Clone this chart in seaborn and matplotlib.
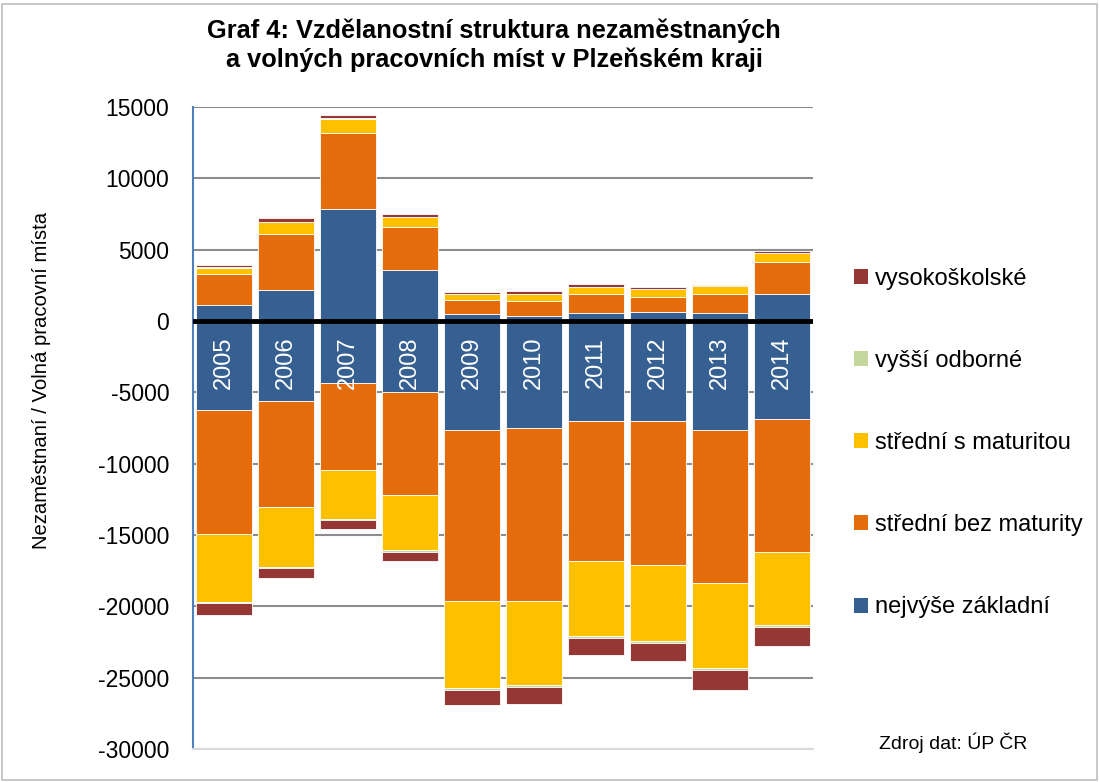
import numpy as np
import seaborn as sns
import matplotlib.pyplot as plt
from matplotlib.patches import Patch, Rectangle

years = ["2005", "2006", "2007", "2008", "2009", "2010", "2011", "2012", "2013", "2014"]
categories = ["nejvýše základní", "střední bez maturity", "střední s maturitou",
              "vyšší odborné", "vysokoškolské"]
colors = ["#376092", "#E46C0A", "#FFC000", "#C3D69B", "#953735"]

# volná pracovní místa (kladné hodnoty)
vac_zakladni = [1120, 2150, 7820, 3550, 470, 350, 580, 650, 580, 1870]
vac_bez_mat = [2150, 3960, 5360, 3050, 980, 1070, 1330, 1050, 1290, 2240]
vac_s_mat = [460, 840, 1010, 700, 420, 490, 470, 520, 580, 650]
vac_vos = [20, 20, 20, 20, 10, 10, 10, 10, 10, 20]
vac_vs = [170, 220, 210, 190, 150, 180, 180, 150, 80, 120]

# nezaměstnaní (záporné hodnoty)
une_zakladni = [-6250, -5620, -4360, -4990, -7610, -7490, -7020, -6980, -7650, -6880]
une_bez_mat = [-8680, -7400, -6070, -7210, -12010, -12110, -9780, -10150, -10740, -9340]
une_s_mat = [-4740, -4200, -3450, -3850, -6090, -5900, -5270, -5320, -5900, -5110]
une_vos = [-130, -120, -100, -120, -150, -150, -150, -150, -150, -150]
une_vs = [-800, -700, -600, -680, -1040, -1230, -1210, -1220, -1390, -1290]

vac = [vac_zakladni, vac_bez_mat, vac_s_mat, vac_vos, vac_vs]
une = [une_zakladni, une_bez_mat, une_s_mat, une_vos, une_vs]

sns.set_theme(style="white")
plt.rcParams["font.family"] = ["Liberation Sans", "DejaVu Sans"]
plt.rcParams["axes.unicode_minus"] = False
plt.rcParams["text.color"] = "black"

fig = plt.figure(figsize=(10.99, 7.82), dpi=100)
ax = fig.add_axes([0.1756, 0.0422, 0.5642, 0.821])

for series in (vac, une):
    bottom = np.zeros(len(years))
    for vals, c in zip(series, colors):
        sns.barplot(x=years, y=vals, bottom=bottom, color=c, width=0.9,
                    errorbar=None, edgecolor="white", linewidth=0.6,
                    saturation=1, ax=ax, zorder=2)
        bottom = bottom + np.array(vals)

for i, y in enumerate(years):
    ax.text(i, -2900, y, rotation=90, color="white", fontsize=17,
            ha="center", va="center", zorder=5)

ax.axhline(0, color="black", lw=3.5, zorder=4)
ax.set_ylim(-30000, 15000)
ax.set_xlim(-0.5, 9.5)
ax.set_yticks(np.arange(-30000, 15001, 5000))
ax.yaxis.grid(True, color="#8c8c8c", lw=1.5, zorder=0)
ax.set_axisbelow(True)
ax.set_xticks([])
ax.set_xlabel("")
ax.set_ylabel("")
ax.tick_params(axis="y", length=0, pad=17, labelsize=16.5, labelcolor="black")
for s in ("top", "right"):
    ax.spines[s].set_visible(False)
ax.spines["left"].set_color("#4F81BD")
ax.spines["left"].set_linewidth(1.5)
ax.spines["bottom"].set_color("#d9d9d9")
ax.spines["bottom"].set_linewidth(1.5)

fig.text(0.038, 0.514, "Nezaměstnaní / Volná pracovní místa", rotation=90,
         ha="center", va="center", fontsize=14.6)

fig.text(0.4495, 0.942, "Graf 4: Vzdělanostní struktura nezaměstnaných\na volných pracovních míst v Plzeňském kraji",
         ha="center", va="center", fontsize=18.3, fontweight="bold", linespacing=1.2)

handles = [Patch(facecolor=c, edgecolor="none") for c in colors][::-1]
fig.legend(handles, categories[::-1], loc="center left", bbox_to_anchor=(0.7575, 0.4335),
           frameon=False, fontsize=17, handlelength=0.6, handleheight=0.6,
           handletextpad=0.3, labelspacing=2.55)

fig.text(0.80, 0.05, "Zdroj dat: ÚP ČR", fontsize=14, ha="left", va="center")

fig.patches.append(Rectangle((0.002, 0.002), 0.996, 0.993, transform=fig.transFigure,
                             fill=False, edgecolor="#bfbfbf", lw=1.2))

fig.savefig("out.png", dpi=100)
